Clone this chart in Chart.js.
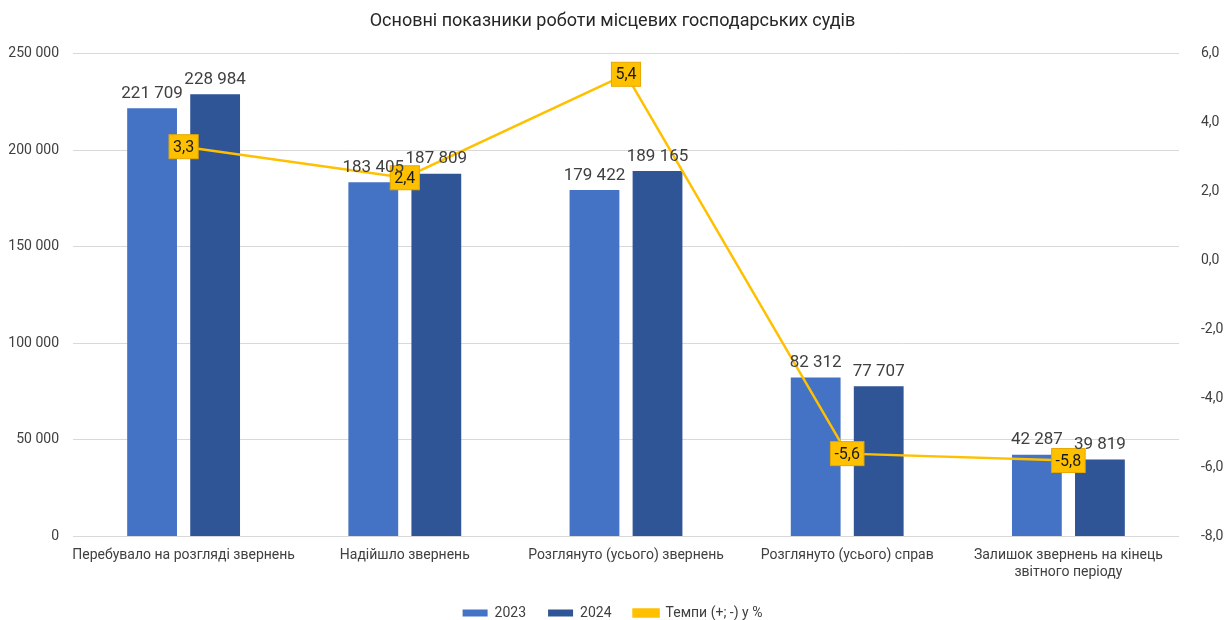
<!DOCTYPE html>
<html>
<head>
<meta charset="utf-8">
<script src="https://cdn.jsdelivr.net/npm/chart.js@4.4.1/dist/chart.umd.min.js"></script>
<style>
  html, body { margin: 0; padding: 0; background: #fff; }
  #wrap { width: 1225px; height: 620px; }
</style>
</head>
<body>
<div id="wrap"><canvas id="courtsChart" width="1225" height="620"></canvas></div>
<script>
let categories = [
    'Перебувало на розгляді звернень',
    'Надійшло звернень',
    'Розглянуто (усього) звернень',
    'Розглянуто (усього) справ',
    ['Залишок звернень на кінець', 'звітного періоду']
];
let values2023 = [221709, 183405, 179422, 82312, 42287];
let values2024 = [228984, 187809, 189165, 77707, 39819];
let growthRates = [3.3, 2.4, 5.4, -5.6, -5.8];

let fontFamily = 'Roboto, "Noto Sans", sans-serif';

function formatThousands(v) {
    return String(v).replace(/\B(?=(\d{3})+(?!\d))/g, ' ');
}

function formatComma(v) {
    return v.toFixed(1).replace('.', ',');
}

// draws the value labels above bars and the boxed labels on the line
let valueLabels = {
    id: 'valueLabels',
    afterDatasetsDraw(chart) {
        let c = chart.ctx;
        c.save();
        chart.data.datasets.forEach((ds, i) => {
            let meta = chart.getDatasetMeta(i);
            if (meta.hidden) return;
            meta.data.forEach((el, j) => {
                if (ds.type === 'line') {
                    let text = formatComma(ds.data[j]);
                    c.font = '16px ' + fontFamily;
                    let w = c.measureText(text).width + 8;
                    let h = 24;
                    c.fillStyle = '#FFC000';
                    c.fillRect(el.x - w / 2, el.y - h / 2, w, h);
                    c.strokeStyle = '#E6A800';
                    c.lineWidth = 1;
                    c.strokeRect(el.x - w / 2, el.y - h / 2, w, h);
                    c.fillStyle = '#1a1a1a';
                    c.textAlign = 'center';
                    c.textBaseline = 'middle';
                    c.fillText(text, el.x, el.y + 1);
                } else {
                    c.font = '17px ' + fontFamily;
                    c.fillStyle = '#404040';
                    c.textAlign = 'center';
                    c.textBaseline = 'bottom';
                    c.fillText(formatThousands(ds.data[j]), el.x, el.y - 6);
                }
            });
        });
        c.restore();
    }
};

let ctx = document.getElementById('courtsChart').getContext('2d');
let courtsChart = new Chart(ctx, {
    type: 'bar',
    data: {
        labels: categories,
        datasets: [
            {
                label: 'Темпи (+; -) у %',
                type: 'line',
                data: growthRates,
                yAxisID: 'y1',
                borderColor: '#FFC000',
                backgroundColor: '#FFC000',
                borderWidth: 2.5,
                pointRadius: 0,
                tension: 0,
                order: 0
            },
            {
                label: '2023',
                data: values2023,
                backgroundColor: '#4472C4',
                yAxisID: 'y',
                categoryPercentage: 0.57,
                barPercentage: 0.79,
                order: 1
            },
            {
                label: '2024',
                data: values2024,
                backgroundColor: '#2F5597',
                yAxisID: 'y',
                categoryPercentage: 0.57,
                barPercentage: 0.79,
                order: 1
            }
        ]
    },
    options: {
        responsive: false,
        animation: false,
        layout: { padding: { top: 4, bottom: -10, left: 0, right: 0 } },
        plugins: {
            title: {
                display: true,
                text: 'Основні показники роботи місцевих господарських судів',
                color: '#262626',
                font: { family: fontFamily, size: 18, weight: 'normal' },
                padding: { top: 7, bottom: 21 }
            },
            legend: {
                position: 'bottom',
                labels: {
                    color: '#404040',
                    font: { family: fontFamily, size: 14 },
                    boxWidth: 25,
                    boxHeight: 7,
                    padding: 22,
                    sort: (a, b) => (a.text === '2023' ? -1 : a.text === '2024' ? (b.text === '2023' ? 1 : -1) : 1)
                }
            },
            tooltip: { enabled: false }
        },
        scales: {
            x: {
                grid: { display: false },
                border: { display: false },
                ticks: {
                    color: '#404040',
                    font: { family: fontFamily, size: 14 },
                    maxRotation: 0,
                    autoSkip: false
                }
            },
            y: {
                position: 'left',
                min: 0,
                max: 250000,
                afterFit: s => { s.width = 73; },
                grid: { color: '#D9D9D9', drawTicks: false },
                border: { display: false },
                ticks: {
                    stepSize: 50000,
                    padding: 14,
                    color: '#404040',
                    font: { family: fontFamily, size: 14 },
                    callback: v => formatThousands(v)
                }
            },
            y1: {
                position: 'right',
                min: -8,
                max: 6,
                afterFit: s => { s.width = 46; },
                grid: { display: false },
                border: { display: false },
                ticks: {
                    stepSize: 2,
                    padding: 14,
                    color: '#404040',
                    font: { family: fontFamily, size: 14 },
                    callback: v => formatComma(v)
                }
            }
        }
    },
    plugins: [valueLabels]
});
</script>
</body>
</html>
